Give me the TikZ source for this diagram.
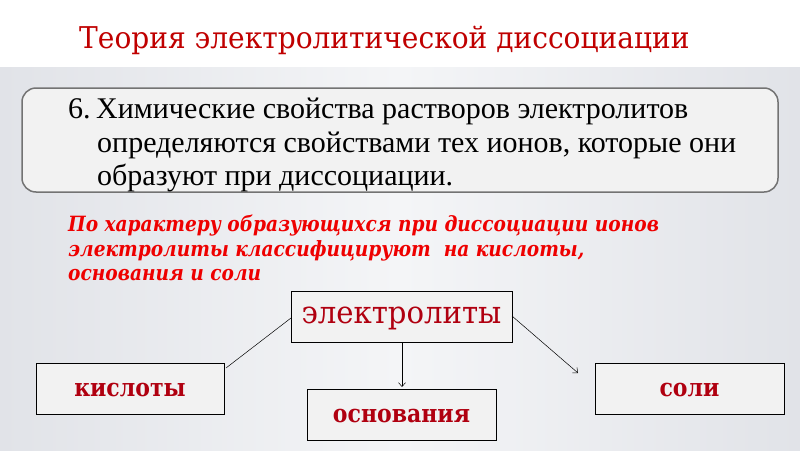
\documentclass[tikz,border=0pt]{standalone}
\usepackage{fontspec}
\setmainfont{Liberation Serif}
\newfontfamily\titlefont[FakeStretch=0.935]{DejaVu Serif}
\newfontfamily\redfont[FakeStretch=0.885]{DejaVu Serif}
\newfontfamily\catfont[FakeStretch=0.88]{DejaVu Serif}
\newfontfamily\bigcatfont[FakeStretch=0.94]{DejaVu Serif}
\usetikzlibrary{arrows.meta}
\definecolor{titlered}{HTML}{C00000}
\definecolor{boxred}{HTML}{B00010}
\definecolor{brightred}{HTML}{EE0000}
\definecolor{bandA}{HTML}{E1E3E8}
\definecolor{bandB}{HTML}{F4F5F7}
\definecolor{boxfill}{HTML}{F2F2F2}
\begin{document}
\begin{tikzpicture}[x=1pt,y=-1pt,
  catbox/.style={draw=black,line width=0.8pt,fill=boxfill,inner sep=0pt},
  cattext/.style={text=boxred,font=\catfont\bfseries\fontsize{25}{27}\selectfont},
  bigcattext/.style={text=boxred,font=\bigcatfont\fontsize{31}{33}\selectfont},
  bodytext/.style={anchor=base west,inner sep=0pt,font=\fontsize{30}{32}\selectfont},
  redtext/.style={anchor=base west,inner sep=0pt,text=brightred,font=\redfont\bfseries\itshape\fontsize{21}{23}\selectfont},
  conn/.style={draw=black,line width=0.5pt},
  tip/.style={-{Straight Barb[length=4pt,width=7pt]}}]
\useasboundingbox (0,0) rectangle (800,450);
\fill[white] (0,0) rectangle (800,67);
\shade[left color=bandA,right color=bandA,middle color=bandB] (0,67) rectangle (800,450);
% title
\node[anchor=base west,inner sep=0pt,text=titlered,font=\titlefont\fontsize{30}{32}\selectfont] (title) at (79,48) {Теория электролитической диссоциации};
% rounded box
\draw[draw=gray!90!black,line width=1.5pt,fill=boxfill,rounded corners=14pt] (22,88) rectangle (778,192);
\node[bodytext] (l1) at (68,118) {6.\hspace{5.5pt}Химические свойства растворов электролитов};
\node[bodytext] (l2) at (97,152) {определяются свойствами тех ионов, которые они};
\node[bodytext] (l3) at (97,185) {образуют при диссоциации.};
% red italic text
\node[redtext] (r1) at (68,231) {По характеру образующихся при диссоциации ионов};
\node[redtext] (r2) at (68,256) {электролиты классифицируют\ \ на кислоты,};
\node[redtext] (r3) at (68,280) {основания и соли};
% category boxes
\path[catbox] (291,291) rectangle (512,342);
\node[bigcattext,anchor=center] (el) at (401.5,318) {электролиты};
\path[catbox] (36,363) rectangle (224,414);
\node[cattext,anchor=center] (ac) at (130,390) {кислоты};
\path[catbox] (307,389) rectangle (496,440);
\node[cattext,anchor=center] (ba) at (401.5,416) {основания};
\path[catbox] (595,363) rectangle (784,414);
\node[cattext,anchor=center] (sa) at (689.5,390) {соли};
% connector anchors
\coordinate (elL) at (291,318);
\coordinate (elB) at (402,342);
\coordinate (elR) at (512,316);
\coordinate (acT) at (226,368);
\coordinate (baT) at (402,387);
\coordinate (saT) at (578,373);
\draw[conn] (elL) -- (acT);
\draw[conn,tip] (elB) -- (baT);
\draw[conn,tip] (elR) -- (saT);
\end{tikzpicture}
\end{document}
